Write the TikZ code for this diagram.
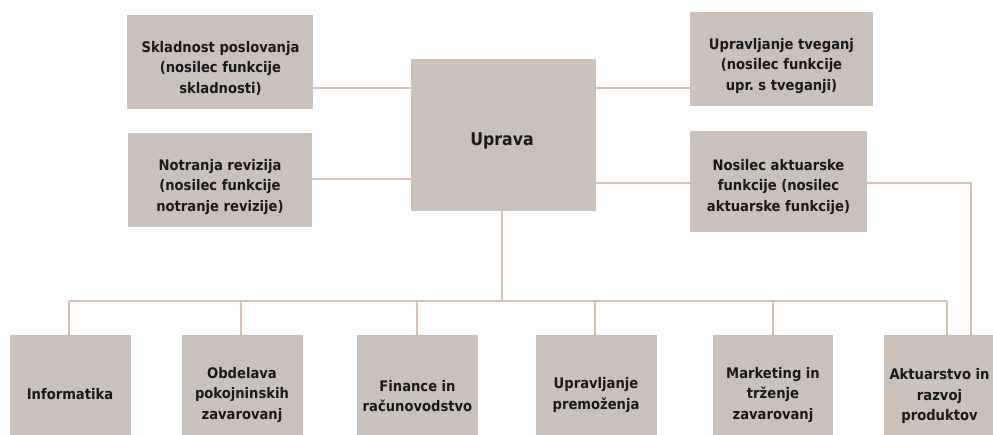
\documentclass[tikz,border=0pt]{standalone}
\usepackage{fontspec}
\setmainfont{DejaVu Sans Condensed}
\frenchspacing
\definecolor{boxfill}{HTML}{C9C1BA}
\definecolor{conn}{HTML}{D9BFB4}
\definecolor{txt}{HTML}{1A1A1A}
\tikzset{
  box/.style={fill=boxfill, draw=none, inner sep=0pt, shape=rectangle},
  lbl/.style={font=\bfseries\fontsize{14.6}{20.5}\selectfont, align=center, text=txt, inner sep=0pt},
  biglbl/.style={font=\bfseries\fontsize{17.5}{20}\selectfont, align=center, text=txt, inner sep=0pt},
  link/.style={draw=conn, line width=1.3pt},
}
\begin{document}
\begin{tikzpicture}[x=1pt,y=-1pt]
\useasboundingbox (0,0) rectangle (993,435);
\clip (0,0) rectangle (993,435);
% upper boxes
\node[box, minimum width=186pt, minimum height=94pt] (skl) at (220,62) {};
\node[box, minimum width=184pt, minimum height=94pt] (notr) at (220,180) {};
\node[box, minimum width=185pt, minimum height=152pt] (upr) at (503.5,135) {};
\node[box, minimum width=183pt, minimum height=94pt] (tveg) at (781.5,59) {};
\node[box, minimum width=177pt, minimum height=101pt] (nos) at (778.5,181.5) {};
% bottom boxes
\node[box, minimum width=121pt, minimum height=122pt] (inf) at (70.5,396) {};
\node[box, minimum width=121pt, minimum height=122pt] (obd) at (242.5,396) {};
\node[box, minimum width=121pt, minimum height=122pt] (fin) at (417.5,396) {};
\node[box, minimum width=121pt, minimum height=122pt] (prem) at (596.5,396) {};
\node[box, minimum width=120pt, minimum height=122pt] (mark) at (773,396) {};
\node[box, minimum width=121pt, minimum height=122pt] (akt) at (944.5,396) {};
% labels
\node[lbl] (tskl) at (220.5,68) {Skladnost poslovanja\\(nosilec funkcije\\skladnosti)};
\node[lbl] (tnotr) at (220,187) {Notranja revizija\\(nosilec funkcije\\notranje revizije)};
\node[biglbl] (tupr) at (502,141) {Uprava};
\node[lbl] (ttveg) at (781.5,66) {Upravljanje tveganj\\(nosilec funkcije\\upr. s tveganji)};
\node[lbl] (tnos) at (778.5,187) {Nosilec aktuarske\\funkcije (nosilec\\aktuarske funkcije)};
\node[lbl] (tinf) at (70,394) {Informatika};
\node[lbl] (tobd) at (242,395) {Obdelava\\pokojninskih\\zavarovanj};
\node[lbl] (tfin) at (417.5,396) {Finance in\\računovodstvo};
\node[lbl] (tprem) at (596,395) {Upravljanje\\premoženja};
\node[lbl] (tmark) at (773,395) {Marketing in\\trženje\\zavarovanj};
\node[lbl] (takt) at (939.5,396) {Aktuarstvo in\\razvoj\\produktov};
% connectors
\coordinate (busL) at (69,301);
\coordinate (busR) at (947,301);
\coordinate (nosR) at (971,183);
\draw[link] (skl.east |- 0,88) -- (upr.west |- 0,88);
\draw[link] (notr.east |- 0,179) -- (upr.west |- 0,179);
\draw[link] (upr.east |- 0,88) -- (tveg.west |- 0,88);
\draw[link] (upr.east |- 0,183) -- (nos.west |- 0,183);
\draw[link] (nos.east |- nosR) -- (nosR) -- (nosR |- akt.north);
\draw[link] (upr.south -| 502,0) -- (502,301);
\draw[link] (busL) -- (busR);
\draw[link] (busL) -- (busL |- inf.north);
\draw[link] (241,301) -- (241,0 |- obd.north);
\draw[link] (417,301) -- (417,0 |- fin.north);
\draw[link] (595,301) -- (595,0 |- prem.north);
\draw[link] (773,301) -- (mark.north);
\draw[link] (busR) -- (busR |- akt.north);
\end{tikzpicture}
\end{document}
